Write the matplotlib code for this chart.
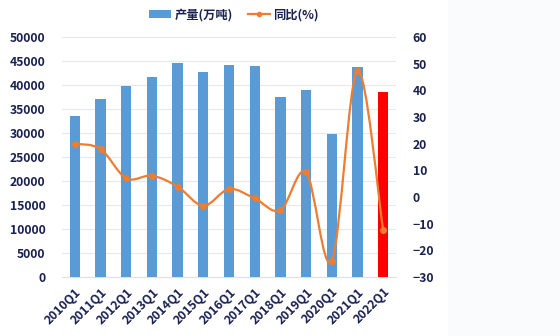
import matplotlib
matplotlib.use("Agg")
import matplotlib.pyplot as plt
import numpy as np
from matplotlib.path import Path
from matplotlib.patches import PathPatch, Rectangle
from matplotlib.lines import Line2D

plt.rcParams['font.family'] = ['Noto Sans CJK SC', 'DejaVu Sans']

categories = ["2010Q1", "2011Q1", "2012Q1", "2013Q1", "2014Q1", "2015Q1", "2016Q1",
              "2017Q1", "2018Q1", "2019Q1", "2020Q1", "2021Q1", "2022Q1"]
output = [33500, 37000, 39800, 41600, 44600, 42700, 44200, 43900, 37600, 39000, 29800, 43700, 38600]
yoy = [20.0, 18.0, 7.0, 8.0, 3.9, -3.3, 3.0, -0.5, -5.0, 9.3, -24.0, 47.4, -12.4]
left_ticks = [0, 5000, 10000, 15000, 20000, 25000, 30000, 35000, 40000, 45000, 50000]
right_ticks = [-30, -20, -10, 0, 10, 20, 30, 40, 50, 60]

txt = "#1a2150"
blue = "#5b9bd5"
orange = "#ed7d31"

fig = plt.figure(figsize=(5.6, 3.36), dpi=100)
fig.patch.set_facecolor("white")
fig.add_artist(Rectangle((448/560, 0), 1, 1, transform=fig.transFigure,
                         facecolor="#fafbfd", edgecolor="none", zorder=-10))

ax = fig.add_axes([62/560, 59/336, 334/560, 240/336])
ax2 = ax.twinx()
ax.set_zorder(1); ax2.set_zorder(2)
ax.patch.set_alpha(0); ax2.patch.set_alpha(0)

x = np.arange(len(categories))
colors = [blue] * (len(categories) - 1) + ["#ff0000"]
ax.bar(x, output, width=0.4, color=colors, zorder=3)
ax.set_xlim(-0.5, len(categories) - 0.5)
ax.set_ylim(0, 50000)
ax.set_yticks(left_ticks)
ax.grid(axis='y', color="#e8e8e8", linewidth=0.8, zorder=0)
ax.set_axisbelow(True)
ax.set_xticks(x)
ax.set_xticklabels(categories, rotation=45, ha='right', rotation_mode='anchor',
                   fontsize=8.8, fontweight='bold', color=txt)
ax.tick_params(axis='x', length=0, pad=6)
ax.tick_params(axis='y', length=0, pad=12, labelsize=8.8, labelcolor=txt)
for lbl in ax.get_yticklabels():
    lbl.set_fontweight('bold')
for s in ax.spines.values():
    s.set_visible(False)
ax.spines['bottom'].set_visible(True)
ax.spines['bottom'].set_color("#e0e0e0")

# smoothed line through data (Catmull-Rom -> cubic Bezier)
pts = np.column_stack([x, yoy]).astype(float)
verts = [tuple(pts[0])]
codes = [Path.MOVETO]
n = len(pts)
for i in range(n - 1):
    p0 = pts[i - 1] if i > 0 else pts[i]
    p1 = pts[i]
    p2 = pts[i + 1]
    p3 = pts[i + 2] if i + 2 < n else pts[i + 1]
    c1 = p1 + (p2 - p0) / 6.0
    c2 = p2 - (p3 - p1) / 6.0
    verts += [tuple(c1), tuple(c2), tuple(p2)]
    codes += [Path.CURVE4] * 3
ax2.add_patch(PathPatch(Path(verts, codes), facecolor='none', edgecolor=orange,
                        linewidth=1.6, zorder=4))
ax2.plot(x, yoy, linestyle='none', marker='o', markersize=4, color=orange, zorder=5)
ax2.set_ylim(-30, 60)
ax2.set_yticks(right_ticks)
ax2.tick_params(axis='y', length=0, pad=12, labelsize=8.8, labelcolor=txt)
for lbl in ax2.get_yticklabels():
    lbl.set_fontweight('bold')
for s in ax2.spines.values():
    s.set_visible(False)

handles = [Rectangle((0, 0), 1, 1, facecolor=blue, edgecolor='none'),
           Line2D([0], [0], color=orange, marker='o', markersize=3, linewidth=1.6)]
leg = fig.legend(handles, ["产量(万吨)", "同比(%)"], loc='center', bbox_to_anchor=(234/560, 1 - 15/336),
                 ncol=2, frameon=False, prop={'size': 8.8, 'weight': 'bold'},
                 handlelength=1.8, handleheight=0.6, handletextpad=0.3, columnspacing=1.2)
for t in leg.get_texts():
    t.set_color(txt)

fig.savefig("out.png", dpi=100)
